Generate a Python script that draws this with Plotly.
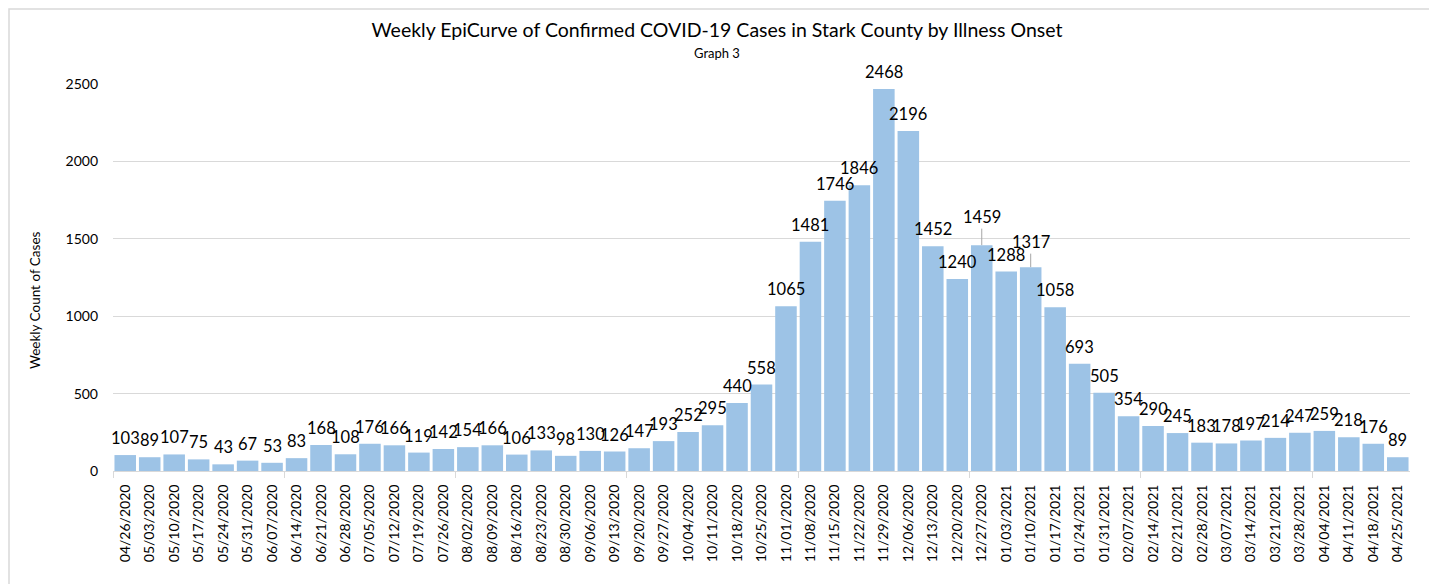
import plotly.graph_objects as go

dates = ["04/26/2020","05/03/2020","05/10/2020","05/17/2020","05/24/2020","05/31/2020","06/07/2020",
         "06/14/2020","06/21/2020","06/28/2020","07/05/2020","07/12/2020","07/19/2020","07/26/2020",
         "08/02/2020","08/09/2020","08/16/2020","08/23/2020","08/30/2020","09/06/2020","09/13/2020",
         "09/20/2020","09/27/2020","10/04/2020","10/11/2020","10/18/2020","10/25/2020","11/01/2020",
         "11/08/2020","11/15/2020","11/22/2020","11/29/2020","12/06/2020","12/13/2020","12/20/2020",
         "12/27/2020","01/03/2021","01/10/2021","01/17/2021","01/24/2021","01/31/2021","02/07/2021",
         "02/14/2021","02/21/2021","02/28/2021","03/07/2021","03/14/2021","03/21/2021","03/28/2021",
         "04/04/2021","04/11/2021","04/18/2021","04/25/2021"]
cases = [103, 89, 107, 75, 43, 67, 53, 83, 168, 108,
         176, 166, 119, 142, 154, 166, 106, 133, 98, 130,
         126, 147, 193, 252, 295, 440, 558, 1065, 1481, 1746,
         1846, 2468, 2196, 1452, 1240, 1459, 1288, 1317, 1058, 693,
         505, 354, 290, 245, 183, 178, 197, 214, 247, 259,
         218, 176, 89]
y_ticks = [0, 500, 1000, 1500, 2000, 2500]

FONT = "Lato, 'Liberation Sans', Arial, sans-serif"
BAR = "#9DC3E6"
GRID = "#D9D9D9"

# page body has an 8px margin; figure pixel = page pixel - 8
OFF = 8
W, H = 1437, 584
PL, PR, PT, PB = 113 - OFF, 1410 - OFF, 84 - OFF, 471 - OFF   # plot area in figure pixels
PW, PH = PR - PL, PB - PT

def px(xp):   # page x -> paper
    return (xp - OFF - PL) / PW

def py(yp):   # page y -> paper
    return (PB - (yp - OFF)) / PH

xs = list(range(len(dates)))

fig = go.Figure()
fig.add_trace(go.Bar(x=xs, y=cases, marker=dict(color=BAR, line=dict(width=0)),
                     hoverinfo="x+y", showlegend=False))

LABEL_FONT = dict(size=16.5, color="#000000", family=FONT)
leader = {35: 28, 37: 25}
annos = []
for i, v in zip(xs, cases):
    if i in leader:
        annos.append(dict(x=i, y=v, xref="x", yref="y", text=str(v), showarrow=True,
                          arrowhead=0, arrowwidth=1, arrowcolor="#A6A6A6", ax=0, ay=-leader[i],
                          standoff=0, font=LABEL_FONT))
    else:
        annos.append(dict(x=i, y=v, xref="x", yref="y", text=str(v), showarrow=False,
                          yanchor="bottom", yshift=5, font=LABEL_FONT))

annos.append(dict(x=px(717), xref="paper", y=py(53), yref="paper", text="Graph 3",
                  showarrow=False, font=dict(size=13, color="#000000", family=FONT),
                  xanchor="center", yanchor="middle"))
annos.append(dict(x=px(35), xref="paper", y=py(300), yref="paper",
                  text="Weekly Count of Cases", textangle=-90, showarrow=False,
                  font=dict(size=13.5, color="#000000", family=FONT),
                  xanchor="center", yanchor="middle"))

minor_ticks = [k - 0.5 for k in range(0, len(dates), 7)]

fig.update_layout(
    width=W, height=H,
    margin=dict(l=PL, r=W - PR, t=PT, b=H - PB, autoexpand=False),
    paper_bgcolor="white", plot_bgcolor="white",
    bargap=0.12,
    font=dict(family=FONT, color="#000000"),
    title=dict(text="Weekly EpiCurve of Confirmed COVID-19 Cases in Stark County by Illness Onset",
               x=(717 - OFF) / W, xanchor="center", y=1 - (30 - OFF) / H, yanchor="middle",
               font=dict(size=19.5, color="#000000", family=FONT)),
    annotations=annos,
    shapes=[dict(type="rect", xref="paper", yref="paper",
                 x0=px(OFF + 1), x1=px(1432),
                 y0=py(620), y1=py(OFF + 1),
                 line=dict(color="#D9D9D9", width=1.5), fillcolor="rgba(0,0,0,0)", layer="below")],
)
fig.update_xaxes(
    range=[-0.5, len(dates) - 0.5], tickmode="array", tickvals=xs, ticktext=dates,
    tickangle=-90, ticks="", showgrid=False, zeroline=False,
    showline=True, linecolor="#D9D9D9", linewidth=1,
    tickfont=dict(size=14, color="#000000", family=FONT), ticklabelstandoff=7,
    minor=dict(tickmode="array", tickvals=minor_ticks, ticks="outside", ticklen=6,
               tickcolor="#D9D9D9", tickwidth=1, showgrid=False),
    fixedrange=True,
)
fig.update_yaxes(
    range=[0, 2500], tickmode="array", tickvals=y_ticks, showgrid=True, gridcolor=GRID,
    gridwidth=1, zeroline=False, showline=False, ticks="",
    tickfont=dict(size=14, color="#000000", family=FONT), ticklabelstandoff=14,
    fixedrange=True,
)

fig.write_html("out.html")
